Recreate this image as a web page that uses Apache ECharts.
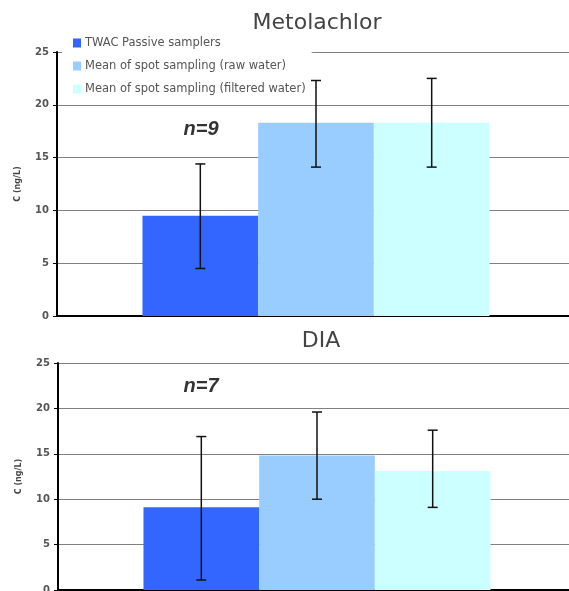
<!DOCTYPE html>
<html><head><meta charset="utf-8">
<script src="https://cdn.jsdelivr.net/npm/echarts@6/dist/echarts.min.js"></script>
<style>html,body{margin:0;padding:0;background:#fff;overflow:hidden}#c{width:569px;height:591px}</style>
</head><body><div id="c"></div>
<script>
const seriesNames = ['TWAC Passive samplers', 'Mean of spot sampling (raw water)', 'Mean of spot sampling (filtered water)'];
const barColors = ['#3366ff', '#99ccff', '#ccffff'];
const yTicks = [0, 5, 10, 15, 20, 25];
// Metolachlor
const metoMeans = [9.5, 18.3, 18.3];
const metoLow = [4.5, 14.1, 14.1];
const metoHigh = [14.4, 22.3, 22.5];
// DIA
const diaMeans = [9.1, 14.8, 13.1];
const diaLow = [1.1, 10.0, 9.1];
const diaHigh = [16.9, 19.6, 17.6];
const catGap = 0.33;

const chart = echarts.init(document.getElementById('c'));

function yAxis(gi) {
  return {
    gridIndex: gi, type: 'value', min: yTicks[0], max: yTicks[yTicks.length - 1], interval: 5,
    name: 'C (ng/L)', nameLocation: 'middle', nameGap: 35,
    nameTextStyle: { fontSize: 8, fontWeight: 'bold', color: '#444', fontFamily: 'DejaVu Sans' },
    axisLine: { show: true, lineStyle: { color: '#000', width: 2 } },
    axisTick: { show: true, length: 4, lineStyle: { color: '#000' } },
    axisLabel: { fontSize: 10, fontWeight: 'bold', color: '#555', margin: 8, fontFamily: 'DejaVu Sans' },
    splitLine: { show: true, lineStyle: { color: '#808080', width: 1 } }
  };
}
function xAxis(gi) {
  return {
    gridIndex: gi, type: 'category', data: ['c'],
    axisLine: { show: true, lineStyle: { color: '#000', width: 2 } },
    axisTick: { show: false }, axisLabel: { show: false }, splitLine: { show: false }
  };
}
function bars(gi, vals) {
  return vals.map((v, i) => ({
    name: seriesNames[i], type: 'bar', xAxisIndex: gi, yAxisIndex: gi,
    data: [v], barGap: '0%', barCategoryGap: (catGap * 100) + '%',
    itemStyle: { color: barColors[i] }, z: 2
  }));
}
function errs(gi, low, high) {
  return {
    type: 'custom', xAxisIndex: gi, yAxisIndex: gi, z: 5,
    data: low.map((l, i) => [0, l, high[i], i]),
    encode: { x: 0, y: [1, 2] },
    renderItem: function (params, api) {
      const top = api.coord([api.value(0), api.value(2)]);
      const bot = api.coord([api.value(0), api.value(1)]);
      const band = api.size([1, 0])[0];
      const bw = band * (1 - catGap) / 3;
      const x = top[0] + (api.value(3) - 1) * bw;
      const hw = 5;
      const st = { stroke: '#111', lineWidth: 1.5 };
      return { type: 'group', children: [
        { type: 'line', shape: { x1: x, y1: top[1], x2: x, y2: bot[1] }, style: st },
        { type: 'line', shape: { x1: x - hw, y1: top[1], x2: x + hw, y2: top[1] }, style: st },
        { type: 'line', shape: { x1: x - hw, y1: bot[1], x2: x + hw, y2: bot[1] }, style: st }
      ] };
    }
  };
}

chart.setOption({
  animation: false,
  grid: [
    { left: 57, width: 518, top: 52, height: 264, outerBoundsMode: 'none' },
    { left: 58, width: 518, top: 363, height: 227, outerBoundsMode: 'none' }
  ],
  xAxis: [xAxis(0), xAxis(1)],
  yAxis: [yAxis(0), yAxis(1)],
  legend: {
    data: seriesNames, orient: 'vertical', left: 62, top: 35,
    backgroundColor: '#fff', padding: [2, 6, 4, 11],
    itemWidth: 8, itemHeight: 9, itemGap: 11, icon: 'rect',
    textStyle: { fontSize: 11.5, color: '#555', fontFamily: 'DejaVu Sans', padding: [0, 0, 0, -1] }
  },
  graphic: [
    { type: 'text', x: 317, y: 23, style: { text: 'Metolachlor', font: '22px "DejaVu Sans"', fill: '#444', align: 'center', verticalAlign: 'middle' } },
    { type: 'text', x: 321, y: 341, style: { text: 'DIA', font: '22px "DejaVu Sans"', fill: '#444', align: 'center', verticalAlign: 'middle' } },
    { type: 'text', x: 201, y: 129, style: { text: 'n=9', font: 'italic bold 20px "Liberation Sans"', fill: '#333', align: 'center', verticalAlign: 'middle' }, z: 10 },
    { type: 'text', x: 201, y: 386, style: { text: 'n=7', font: 'italic bold 20px "Liberation Sans"', fill: '#333', align: 'center', verticalAlign: 'middle' }, z: 10 }
  ],
  series: [].concat(bars(0, metoMeans), bars(1, diaMeans), [errs(0, metoLow, metoHigh), errs(1, diaLow, diaHigh)])
});
</script></body></html>
